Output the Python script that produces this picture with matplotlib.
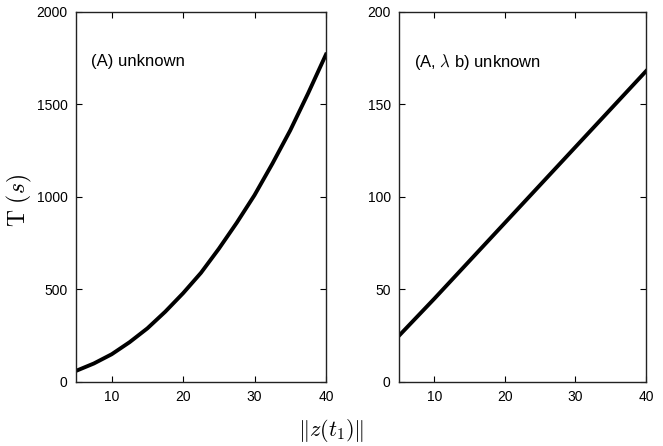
import matplotlib
matplotlib.use('Agg')
import matplotlib.pyplot as plt

# data
z_left = [5, 7.5, 10, 12.5, 15, 17.5, 20, 22.5, 25, 27.5, 30, 32.5, 35, 37.5, 40]
t_left = [60, 100, 150, 215, 290, 380, 480, 590, 720, 860, 1010, 1180, 1360, 1560, 1770]

z_right = [5, 10, 20, 30, 40]
t_right = [25, 45, 86, 127, 168]

xticks = [10, 20, 30, 40]
yticks_left = [0, 500, 1000, 1500, 2000]
yticks_right = [0, 50, 100, 150, 200]

plt.rcParams['font.family'] = ['Liberation Sans', 'DejaVu Sans']
plt.rcParams['mathtext.fontset'] = 'cm'

fig = plt.figure(figsize=(6.63, 4.46), dpi=100)
ax1 = fig.add_axes([0.1146, 0.1435, 0.377, 0.8296])
ax2 = fig.add_axes([0.6018, 0.1435, 0.3725, 0.8296])

ax1.plot(z_left, t_left, color='black', lw=2.8)
ax2.plot(z_right, t_right, color='black', lw=2.8)

for ax, yt, txt in [(ax1, yticks_left, '(A) unknown'),
                    (ax2, yticks_right, r'(A, $\lambda$ b) unknown')]:
    ax.set_xlim(5, 40)
    ax.set_ylim(yt[0], yt[-1])
    ax.set_xticks(xticks)
    ax.set_yticks(yt)
    ax.tick_params(direction='in', top=True, right=True, labelsize=10, length=4, pad=6)
    for s in ax.spines.values():
        s.set_linewidth(1.0)
        s.set_color('#222222')
    ax.text(0.062, 0.865, txt, transform=ax.transAxes, fontsize=12, va='center')

fig.text(0.03, 0.55, r'$\mathrm{T}\ (s)$', rotation=90, fontsize=17, va='center', ha='center')
fig.text(0.5, 0.035, r'$\Vert z(t_1)\Vert$', fontsize=16, ha='center', va='center')

fig.savefig('out.png', dpi=100)
